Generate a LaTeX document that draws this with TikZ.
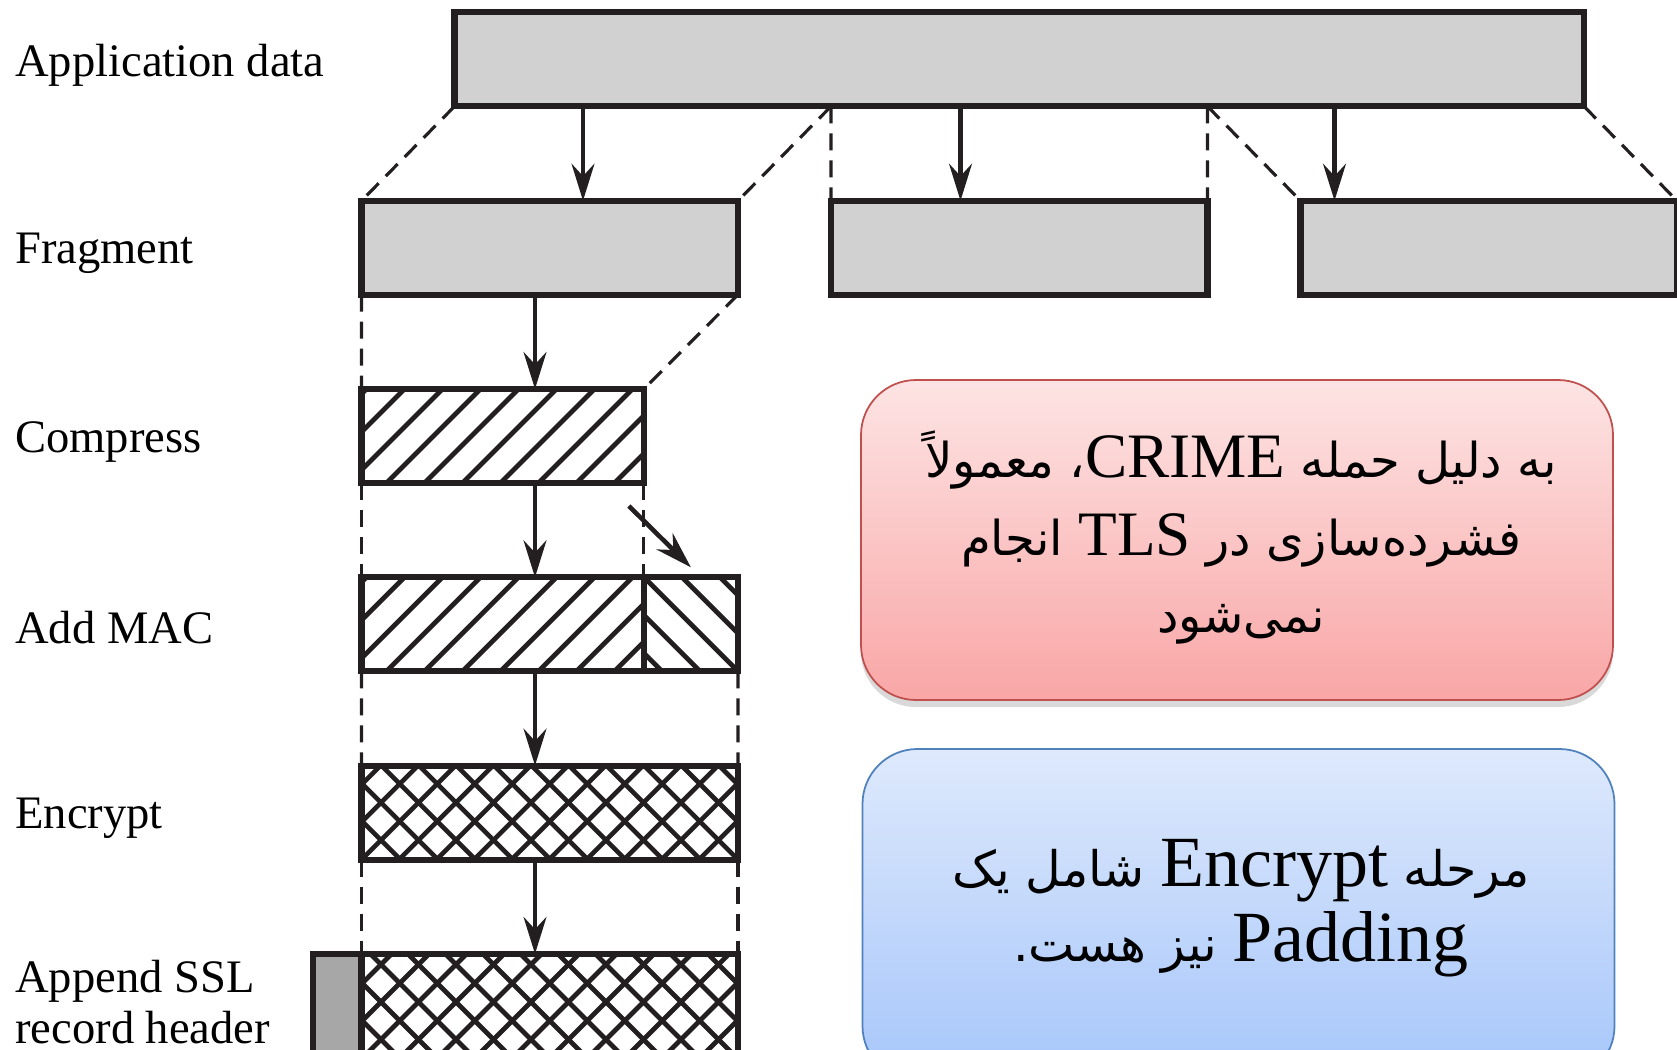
\documentclass[tikz,border=0pt]{standalone}
\usepackage{fontspec}
\setmainfont{Liberation Serif}
\newfontfamily\arabicfont[Script=Arabic,Scale=0.76]{DejaVu Sans}
\newfontfamily\padfont[Script=Arabic,Scale=0.68]{DejaVu Sans}
\TeXXeTstate=1
\usetikzlibrary{arrows.meta,positioning,calc,shadows}
\definecolor{ink}{RGB}{35,31,32}
\definecolor{blkgray}{RGB}{209,209,209}
\definecolor{hdrgray}{RGB}{167,167,167}
\definecolor{crimetop}{RGB}{253,228,228}
\definecolor{crimebot}{RGB}{249,166,166}
\definecolor{crimeline}{RGB}{192,80,77}
\definecolor{padtop}{RGB}{222,233,252}
\definecolor{padbot}{RGB}{166,198,250}
\definecolor{padline}{RGB}{79,129,189}
\tikzset{
  blk/.style={draw=ink,line width=3.5pt,outer sep=0pt,inner sep=0pt,minimum height=1.88cm},
  frag/.style={blk,fill=blkgray,minimum width=7.53cm},
  hatchln/.style={draw=ink,line width=2.7pt},
  hatchne/.style={path picture={\foreach \k in {-3,...,11} \draw[hatchln] ([xshift=\k*0.76cm+0.5cm]path picture bounding box.south west) -- ++(2.4,2.4);}},
  hatchnw/.style={path picture={\foreach \k in {-3,...,11} \draw[hatchln] ([xshift=-\k*0.76cm]path picture bounding box.south east) -- ++(-2.4,2.4);}},
  hatchx/.style={path picture={\foreach \k in {-3,...,12} {\draw[hatchln] ([xshift=\k*0.75cm]path picture bounding box.south west) -- ++(2.4,2.4);
      \draw[hatchln] ([xshift=-\k*0.75cm]path picture bounding box.south east) -- ++(-2.4,2.4);}}},
  lbl/.style={anchor=west,align=left,inner sep=0pt,font=\fontsize{26.5}{29}\selectfont},
  arr/.style={-{Stealth[length=21pt,width=13pt,inset=7pt]},draw=ink,line width=2.6pt},
  guide/.style={draw=ink,line width=1.8pt,dash pattern=on 0.34cm off 0.2cm},
  note/.style={rounded corners=1.1cm,line width=1pt,minimum width=15.04cm,outer sep=0pt},
}
\begin{document}
\begin{tikzpicture}
\useasboundingbox (0,0) rectangle (33.54,-20.98);
% stages
\node[frag,minimum width=22.59cm] (app) at (20.385,-1.188) {};
\node[frag] (frag1) at (10.995,-4.954) {};
\node[frag] (frag2) at (20.385,-4.954) {};
\node[frag] (frag3) at (29.775,-4.954) {};
\node[blk,fill=white,hatchne,minimum width=5.647cm] (cmp) at (10.054,-8.72) {};
\node[blk,fill=white,hatchne,minimum width=5.647cm] (mac1) at (10.054,-12.486) {};
\node[blk,fill=white,hatchnw,minimum width=1.884cm] (mac2) at (13.818,-12.486) {};
\node[blk,fill=white,hatchx,minimum width=7.53cm] (enc) at (10.995,-16.252) {};
\node[blk,fill=white,hatchx,minimum width=7.53cm,minimum height=2.1cm] (ssl) at (10.995,-20.128) {};
\node[blk,fill=hdrgray,minimum width=0.962cm,minimum height=2.1cm] (hdr) at (6.749,-20.128) {};
% labels
\node[lbl] (lapp) at (0.3,-1.31) {Application data};
\node[lbl] (lfrag) at (0.3,-5.07) {Fragment};
\node[lbl] (lcmp) at (0.3,-8.84) {Compress};
\node[lbl] (lmac) at (0.3,-12.55) {Add MAC};
\node[lbl] (lenc) at (0.3,-16.37) {Encrypt};
\node[lbl] (lssl) at (0.3,-20.05) {Append SSL\\record header};
% guides
\coordinate (cut1) at ($(app.south west)!1/3!(app.south east)$);
\coordinate (cut2) at ($(app.south west)!2/3!(app.south east)$);
\draw[guide] (app.south west) -- (frag1.north west);
\draw[guide] (cut1) -- (frag1.north east);
\draw[guide] (cut1) -- (frag2.north west);
\draw[guide] (cut2) -- (frag2.north east);
\draw[guide] (cut2) -- (frag3.north west);
\draw[guide] (app.south east) -- (frag3.north east);
\draw[guide] (frag1.south west) -- (cmp.north west);
\draw[guide] (frag1.south east) -- (cmp.north east);
\draw[guide] (cmp.south west) -- (mac1.north west);
\draw[guide] (cmp.south east) -- (mac1.north east);
\draw[guide] (mac1.south west) -- (enc.north west);
\draw[guide] (mac2.south east) -- (enc.north east);
\draw[guide] (enc.south west) -- (ssl.north west);
\draw[guide] (enc.south east) -- (ssl.north east);
% arrows
\coordinate (ax0) at (10.70,0);
\coordinate (ax1) at (11.66,0);
\coordinate (ax2) at (19.21,0);
\coordinate (ax3) at (26.69,0);
\draw[arr] (app.south -| ax1) -- (frag1.north -| ax1);
\draw[arr] (app.south -| ax2) -- (frag2.north -| ax2);
\draw[arr] (app.south -| ax3) -- (frag3.north -| ax3);
\draw[arr] (frag1.south -| ax0) -- (cmp.north -| ax0);
\draw[arr] (cmp.south -| ax0) -- (mac1.north -| ax0);
\draw[arr] (mac1.south -| ax0) -- (enc.north -| ax0);
\draw[arr] (enc.south -| ax0) -- (ssl.north -| ax0);
\draw[arr] ([shift={(-0.3,-0.46)}]cmp.south east) -- ([yshift=0.2cm]mac2.north);
% notes
\node[note,draw=crimeline,top color=crimetop,bottom color=crimebot,minimum height=6.4cm,
  drop shadow={shadow xshift=0pt,shadow yshift=-4pt,opacity=.3,fill=black!50}] (crimebox) at (24.74,-10.8) {};
\node[align=center,font=\arabicfont\fontsize{36}{44}\selectfont] (crimetxt) at (24.82,-10.75)
  {\beginR به دلیل حمله \beginL{\rmfamily CRIME}\endL، معمولاً\endR\\
   \beginR فشرده‌سازی در \beginL{\rmfamily TLS}\endL{} انجام\endR\\
   \beginR نمی‌شود\endR};
\node[note,draw=padline,top color=padtop,bottom color=padbot,minimum height=6.64cm] (padbox) at (24.77,-18.3) {};
\node[align=center,font=\padfont\fontsize{41}{43}\selectfont] (padtxt) at (24.82,-18.16)
  {\beginR مرحله \beginL{\rmfamily Encrypt}\endL{} شامل یک\endR\\
   \beginR\beginL{\rmfamily Padding}\endL{} نیز هست.\endR};
\end{tikzpicture}
\end{document}
